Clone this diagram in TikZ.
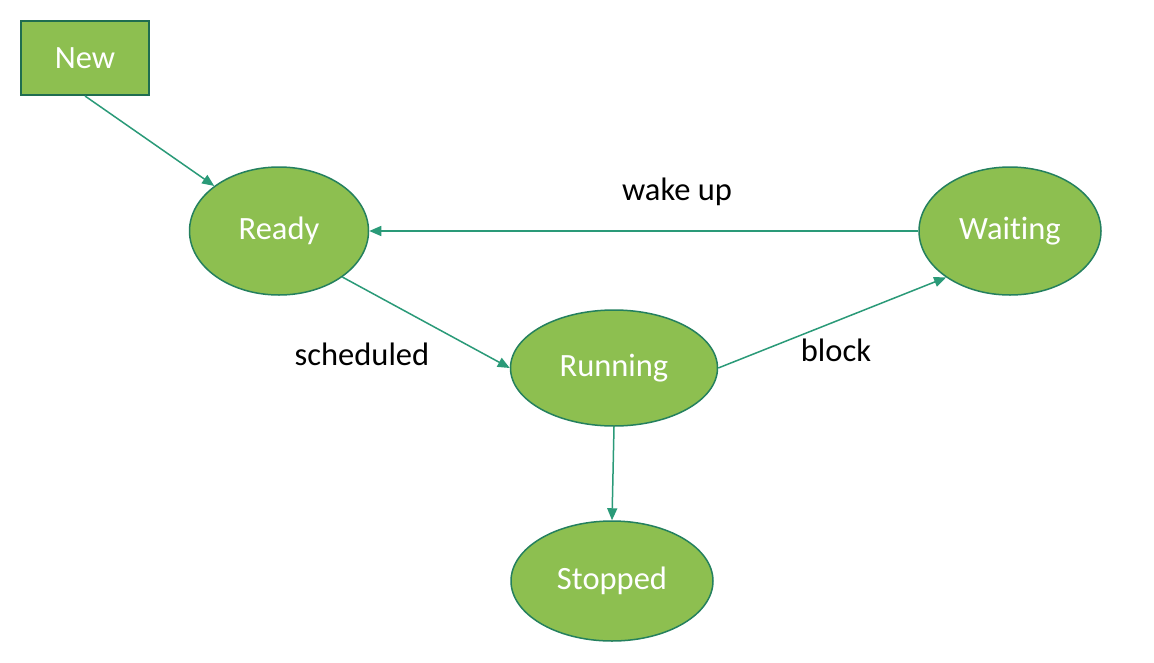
\documentclass[tikz,border=0pt]{standalone}
\usepackage{fontspec}
\setmainfont{Carlito}[Ligatures=NoCommon]
\usetikzlibrary{shapes.geometric,arrows.meta}
\definecolor{fillg}{HTML}{8DBF50}
\definecolor{edgeg}{HTML}{24805E}
\definecolor{arrg}{HTML}{2A9A78}
\tikzset{
  state/.style={ellipse, draw=edgeg, line width=1.5pt, fill=fillg, text=white, inner sep=0pt, font=\fontsize{32.5}{36}\selectfont},
  startbox/.style={rectangle, draw=edgeg!85!black, line width=2pt, fill=fillg, text=white, inner sep=0pt, font=\fontsize{32.5}{36}\selectfont},
  conn/.style={draw=arrg, line width=1.5pt, -{Triangle[length=12pt,width=10pt]}},
  lbl/.style={text=black, font=\fontsize{32.5}{36}\selectfont}
}
\begin{document}
\begin{tikzpicture}[x=1pt,y=-1pt]
\useasboundingbox[fill=white] (0,0) rectangle (1154,662);
\node[startbox, minimum width=128pt, minimum height=74pt] (new) at (85,58) {New};
\node[state, minimum width=179pt, minimum height=128pt] (ready) at (279,231) {Ready};
\node[state, minimum width=182pt, minimum height=128pt] (waiting) at (1010,231) {Waiting};
\node[state, minimum width=207pt, minimum height=116pt] (running) at (614,368) {Running};
\node[state, minimum width=202pt, minimum height=120pt] (stopped) at (612,581) {Stopped};
\draw[conn] (new.south) -- (ready);
\draw[conn] (waiting.west) -- (ready.east);
\draw[conn] (ready.-36) -- (running.west);
\draw[conn] (running.east) -- (waiting.216);
\draw[conn] (running.south) -- (stopped.north);
\node[lbl] (lwake) at (677,192) {wake up};
\node[lbl] (lsched) at (362,354) {scheduled};
\node[lbl] (lblock) at (836,350) {block};
\end{tikzpicture}
\end{document}
